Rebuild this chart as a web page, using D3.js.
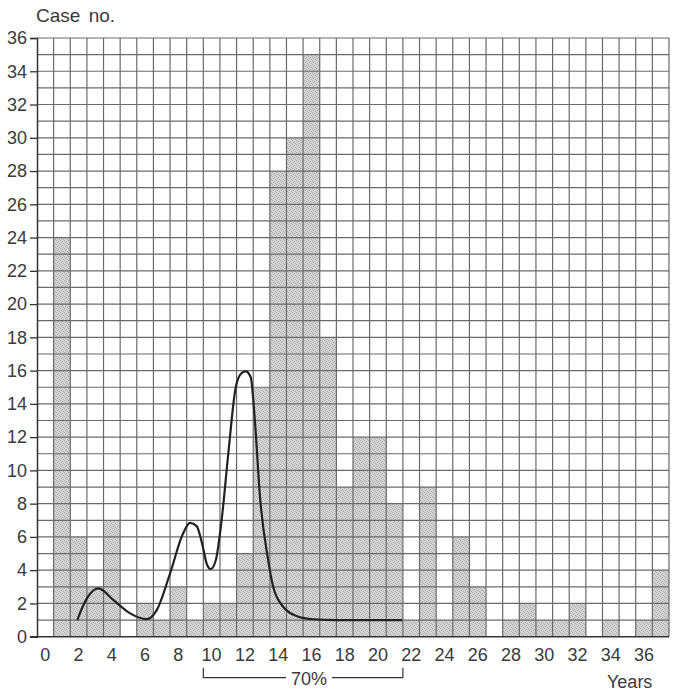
<!DOCTYPE html>
<html>
<head>
<meta charset="utf-8">
<script src="https://cdn.jsdelivr.net/npm/d3@7"></script>
<style>
  body { margin: 0; background: #fff; }
  text { font-family: "Liberation Sans", Arial, sans-serif; fill: #3a3a3a; }
</style>
</head>
<body>
<div id="chart"></div>
<script>
// case counts per year of age, 0..37
var years = d3.range(0, 38);
var cases = [0, 24, 6, 3, 7, 0, 2, 1, 3, 1, 2, 2, 5, 15, 28, 30, 35, 18, 9, 12,
             12, 8, 1, 9, 1, 6, 3, 0, 1, 2, 1, 1, 2, 0, 1, 0, 1, 4];
var yTicks = d3.range(0, 37, 2);
var xTicks = d3.range(0, 37, 2);

// smooth curve drawn over the bars [year, case no.]
var curveX = [2.42, 3.0, 3.69, 4.6, 5.6, 6.6, 7.2, 8.0, 8.78, 9.2, 9.6, 9.95, 10.2, 10.44, 10.75, 11.1, 11.5,
              11.95, 12.3, 12.55, 12.85, 13.1, 13.4, 13.9, 14.2, 14.8, 15.6, 16.6, 18, 21.95];
var curveY = [1.0, 2.3, 2.9, 2.2, 1.4, 1.06, 1.6, 3.8, 6.2, 6.85, 6.65, 5.5, 4.4, 4.07, 4.6, 7.0, 11.0,
              15.0, 15.85, 15.95, 15.6, 13.0, 8.5, 4.6, 3.0, 1.8, 1.25, 1.05, 1.0, 1.0];

// bracket under the axis
var bracketFrom = 10, bracketTo = 22, bracketLabel = "70%";

var width = 678, height = 693;
var margin = {top: 38, right: 9, bottom: 56.3, left: 37};

var svg = d3.select("#chart").append("svg")
    .attr("width", width)
    .attr("height", height);

var x = d3.scaleLinear()
    .domain([0, 38])
    .range([margin.left, width - margin.right]);

var y = d3.scaleLinear()
    .domain([0, 36])
    .range([height - margin.bottom, margin.top]);

// stippled fill for the bars
var defs = svg.append("defs");
var pat = defs.append("pattern")
    .attr("id", "stipple")
    .attr("patternUnits", "userSpaceOnUse")
    .attr("width", 4)
    .attr("height", 4);
pat.append("rect").attr("width", 4).attr("height", 4).attr("fill", "#d4d4d4");
[[0, 0], [2, 1], [1, 2], [3, 3]].forEach(function(p) {
  pat.append("rect").attr("x", p[0]).attr("y", p[1])
     .attr("width", 1).attr("height", 1).attr("fill", "#a8a8a8");
});

// bars
svg.append("g")
  .selectAll("rect")
  .data(years.filter(function(d) { return cases[d] > 0; }))
  .enter()
  .append("rect")
    .attr("x", function(d) { return x(d); })
    .attr("width", function(d) { return x(d + 1) - x(d); })
    .attr("y", function(d) { return y(cases[d]); })
    .attr("height", function(d) { return y(0) - y(cases[d]); })
    .attr("fill", "url(#stipple)");

// grid, one line per unit
var grid = svg.append("g")
    .attr("stroke", "#6a6a6a")
    .attr("stroke-width", 1.2);

grid.selectAll("line.v")
  .data(d3.range(1, 39))
  .enter()
  .append("line")
    .attr("x1", function(d) { return x(d); })
    .attr("x2", function(d) { return x(d); })
    .attr("y1", y(0))
    .attr("y2", y(36));

grid.selectAll("line.h")
  .data(d3.range(1, 37))
  .enter()
  .append("line")
    .attr("x1", x(0))
    .attr("x2", x(38))
    .attr("y1", function(d) { return y(d); })
    .attr("y2", function(d) { return y(d); });

// y axis with ticks on the even numbers
var yAxis = svg.append("g")
    .attr("transform", "translate(" + x(0) + ",0)")
    .call(d3.axisLeft(y).tickValues(yTicks).tickSize(7).tickPadding(3));
yAxis.select(".domain").attr("stroke", "#333").attr("stroke-width", 1.5);
yAxis.selectAll(".tick line").attr("stroke", "#333").attr("stroke-width", 1.3);
yAxis.selectAll("text")
    .style("font-size", "18px")
    .attr("fill", "#3a3a3a")
    .style("font-family", "'Liberation Sans', Arial, sans-serif");

// bottom axis line, a little past the y axis
svg.append("line")
    .attr("x1", x(0) - 7)
    .attr("x2", x(38))
    .attr("y1", y(0))
    .attr("y2", y(0))
    .attr("stroke", "#333")
    .attr("stroke-width", 1.5);

// year labels centred in their cells
svg.append("g")
  .selectAll("text")
  .data(xTicks)
  .enter()
  .append("text")
    .attr("x", function(d) { return x(d + 0.5); })
    .attr("y", y(0) + 24)
    .attr("text-anchor", "middle")
    .style("font-size", "18px")
    .text(function(d) { return d; });

// the curve
var curvePts = curveX.map(function(d, i) { return [d, curveY[i]]; });
svg.append("path")
    .datum(curvePts)
    .attr("fill", "none")
    .attr("stroke", "#222")
    .attr("stroke-width", 2.2)
    .attr("d", d3.line()
        .x(function(d) { return x(d[0]); })
        .y(function(d) { return y(d[1]); })
        .curve(d3.curveMonotoneX));

// 70% bracket
var bY = y(0) + 41, bTop = y(0) + 31;
var bLabel = svg.append("text")
    .attr("x", (x(bracketFrom) + x(bracketTo)) / 2 + 6)
    .attr("y", bY + 7)
    .attr("text-anchor", "middle")
    .style("font-size", "18px")
    .text(bracketLabel);
var bb = bLabel.node().getBBox();
var bracket = svg.append("g").attr("stroke", "#333").attr("stroke-width", 1.2).attr("fill", "none");
bracket.append("path")
    .attr("d", "M" + x(bracketFrom) + "," + bTop + "V" + bY + "H" + (bb.x - 5));
bracket.append("path")
    .attr("d", "M" + (bb.x + bb.width + 5) + "," + bY + "H" + x(bracketTo) + "V" + bTop);

// axis titles
svg.append("text")
    .attr("x", 36)
    .attr("y", 22)
    .style("font-size", "19px")
    .style("word-spacing", "3px")
    .text("Case no.");

svg.append("text")
    .attr("x", 607)
    .attr("y", 688)
    .style("font-size", "18px")
    .text("Years");
</script>
</body>
</html>
